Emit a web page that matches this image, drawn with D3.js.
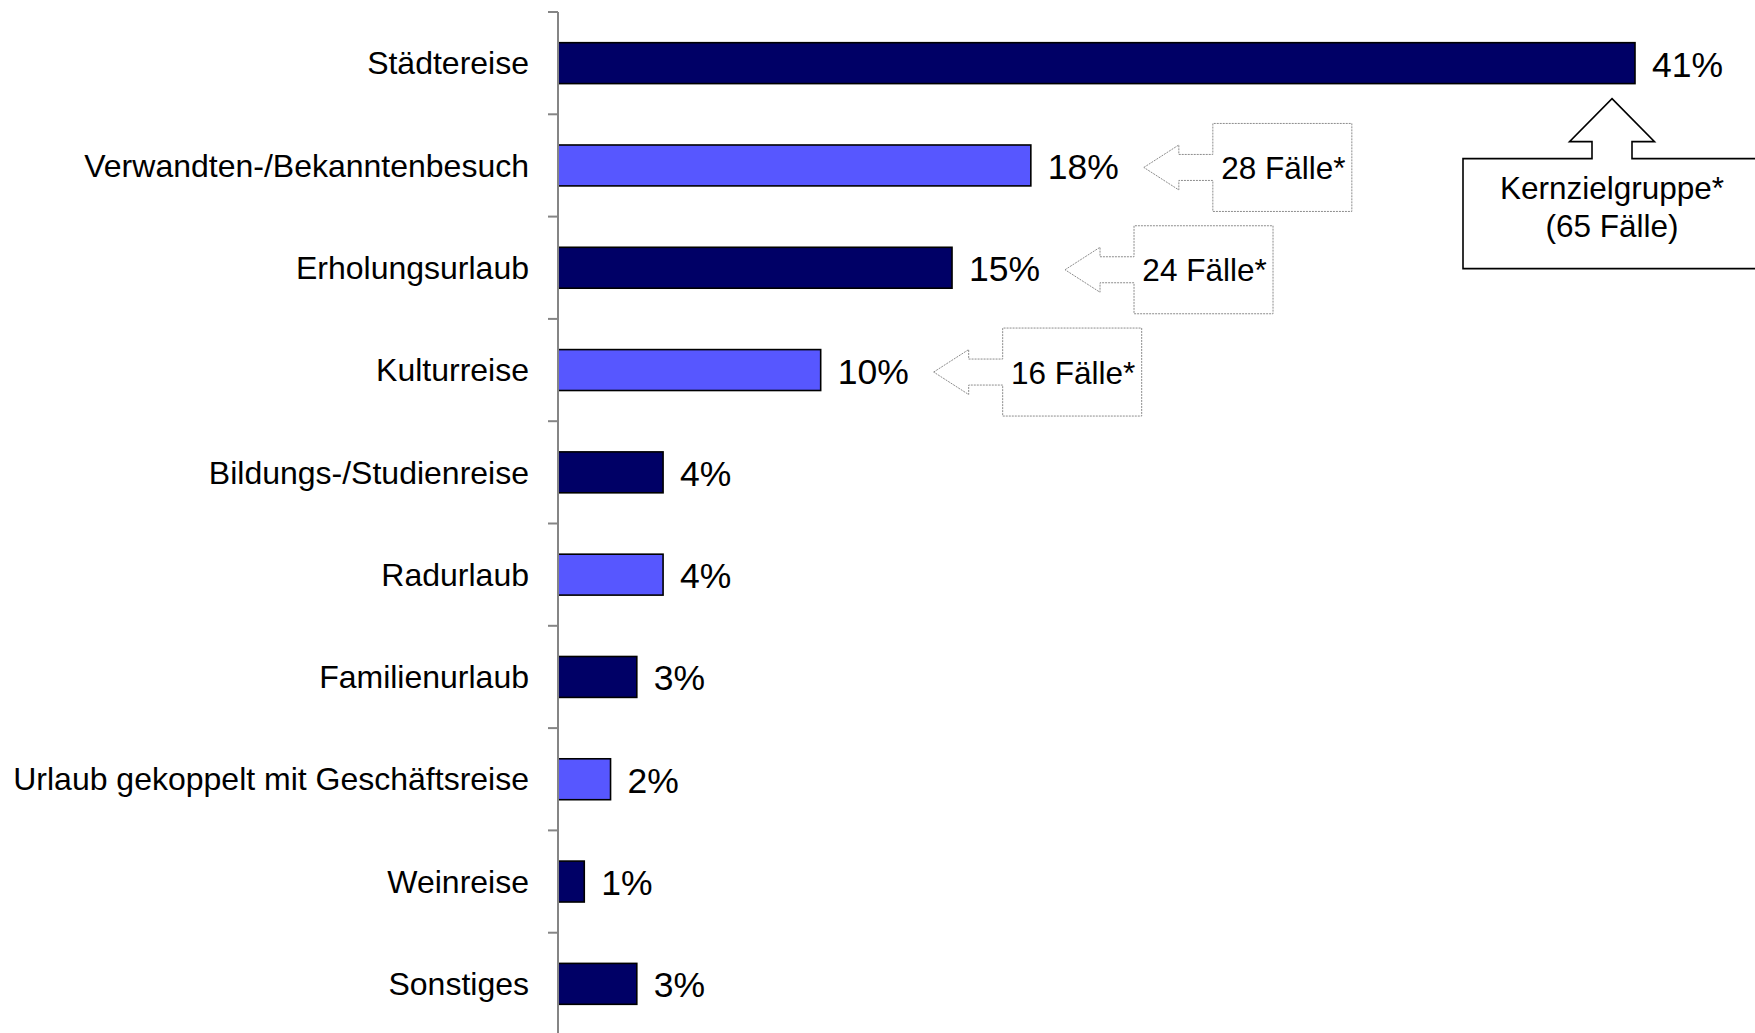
<!DOCTYPE html>
<html lang="de">
<head>
<meta charset="utf-8">
<title>Reiseart</title>
<script src="https://cdn.jsdelivr.net/npm/d3@7"></script>
<style>
  html, body { margin: 0; padding: 0; background: #fff; }
  svg { display: block; }
  text { font-family: "Liberation Sans", Arial, sans-serif; fill: #000; }
</style>
</head>
<body>
<svg id="chart" width="1755" height="1033"></svg>
<script>
// Reiseart – Anteile in Prozent
const categories = [
  "Städtereise",
  "Verwandten-/Bekanntenbesuch",
  "Erholungsurlaub",
  "Kulturreise",
  "Bildungs-/Studienreise",
  "Radurlaub",
  "Familienurlaub",
  "Urlaub gekoppelt mit Geschäftsreise",
  "Weinreise",
  "Sonstiges"
];
const values = [41, 18, 15, 10, 4, 4, 3, 2, 1, 3];
const valueLabels = ["41%", "18%", "15%", "10%", "4%", "4%", "3%", "2%", "1%", "3%"];

// Fallzahlen-Hinweise neben einzelnen Balken
const caseCategories = ["Verwandten-/Bekanntenbesuch", "Erholungsurlaub", "Kulturreise"];
const caseLabels = ["28 Fälle*", "24 Fälle*", "16 Fälle*"];

// Hinweis unter dem längsten Balken
const coreCategory = "Städtereise";
const coreLabels = ["Kernzielgruppe*", "(65 Fälle)"];

const svg = d3.select("#chart");
const axisX = 558;
const plotTop = 12, plotBottom = 1035;

const y = d3.scaleBand()
  .domain(categories)
  .range([plotTop, plotBottom])
  .paddingInner(0.6)
  .paddingOuter(0.3);

const x = d3.scaleLinear()
  .domain([0, 41])
  .range([axisX, 1635]);

// Abwechselnd dunkel/hell; "Sonstiges" immer dunkel
const dark = "#000066", light = "#5757ff";
const barColor = (d, i) => (d === "Sonstiges" || i % 2 === 0) ? dark : light;

// Balken
svg.append("g")
  .selectAll("rect")
  .data(categories)
  .join("rect")
  .attr("x", x(0))
  .attr("y", d => y(d))
  .attr("width", (d, i) => x(values[i]) - x(0))
  .attr("height", y.bandwidth())
  .attr("fill", barColor)
  .attr("stroke", "#000")
  .attr("stroke-width", 1.6);

// Kategorienachse mit Teilstrichen an den Bandgrenzen
const axisG = svg.append("g").attr("stroke", "#858585").attr("stroke-width", 2);
axisG.append("line")
  .attr("x1", axisX).attr("x2", axisX)
  .attr("y1", plotTop).attr("y2", plotBottom);
const step = y.step();
axisG.selectAll("line.tick")
  .data(d3.range(categories.length + 1))
  .join("line")
  .attr("class", "tick")
  .attr("x1", axisX - 10).attr("x2", axisX)
  .attr("y1", i => plotTop + i * step)
  .attr("y2", i => plotTop + i * step);

// Kategoriebeschriftungen
svg.append("g")
  .selectAll("text")
  .data(categories)
  .join("text")
  .attr("x", axisX - 29)
  .attr("y", d => y(d) + y.bandwidth() / 2)
  .attr("dy", "0.35em")
  .attr("text-anchor", "end")
  .attr("font-size", 32)
  .text(d => d);

// Werte rechts neben den Balken
svg.append("g")
  .selectAll("text")
  .data(categories)
  .join("text")
  .attr("x", (d, i) => x(values[i]) + 17)
  .attr("y", d => y(d) + y.bandwidth() / 2)
  .attr("dy", "0.38em")
  .attr("font-size", 35.5)
  .text((d, i) => valueLabels[i]);

// Pfeil-Hinweise (nach links zeigend) mit Fallzahlen
function leftArrowCallout(tx, cy) {
  const head = 35, stem = 34, w = 139, hh = 44, ah = 22.5, sh = 13;
  return [
    [tx, cy],
    [tx + head, cy - ah],
    [tx + head, cy - sh],
    [tx + head + stem, cy - sh],
    [tx + head + stem, cy - hh],
    [tx + head + stem + w, cy - hh],
    [tx + head + stem + w, cy + hh],
    [tx + head + stem, cy + hh],
    [tx + head + stem, cy + sh],
    [tx + head, cy + sh],
    [tx + head, cy + ah]
  ];
}

const line = d3.line();
const callouts = svg.append("g");
caseCategories.forEach((cat, k) => {
  const i = categories.indexOf(cat);
  const tx = x(values[i]) + 113;
  const cy = y(cat) + y.bandwidth() / 2 + 2;
  const pts = leftArrowCallout(tx, cy);
  callouts.append("path")
    .attr("d", line(pts) + "Z")
    .attr("fill", "#fff")
    .attr("stroke", "#8c8c8c")
    .attr("stroke-width", 1)
    .attr("stroke-dasharray", "2,1");
  callouts.append("text")
    .attr("x", tx + 69 + 139 / 2 + 1)
    .attr("y", cy)
    .attr("dy", "0.37em")
    .attr("text-anchor", "middle")
    .attr("font-size", 31.5)
    .text(caseLabels[k]);
});

// Nach oben zeigender Pfeil unter dem Städtereise-Balken
{
  const i = categories.indexOf(coreCategory);
  const tx = x(values[i]) - 23;
  const ty = y(coreCategory) + y.bandwidth() + 15;
  const headD = 43, ah = 42.5, sh = 20, boxTop = ty + 60, boxBottom = ty + 170;
  const boxLeft = 1463, boxRight = 1800;
  const pts = [
    [tx, ty],
    [tx + ah, ty + headD],
    [tx + sh, ty + headD],
    [tx + sh, boxTop],
    [boxRight, boxTop],
    [boxRight, boxBottom],
    [boxLeft, boxBottom],
    [boxLeft, boxTop],
    [tx - sh, boxTop],
    [tx - sh, ty + headD],
    [tx - ah, ty + headD]
  ];
  svg.append("path")
    .attr("d", line(pts) + "Z")
    .attr("fill", "#fff")
    .attr("stroke", "#000")
    .attr("stroke-width", 1.6);
  svg.append("g")
    .selectAll("text")
    .data(coreLabels)
    .join("text")
    .attr("x", tx)
    .attr("y", (d, j) => boxTop + 40 + j * 38)
    .attr("text-anchor", "middle")
    .attr("font-size", 31.5)
    .text(d => d);
}
</script>
</body>
</html>
